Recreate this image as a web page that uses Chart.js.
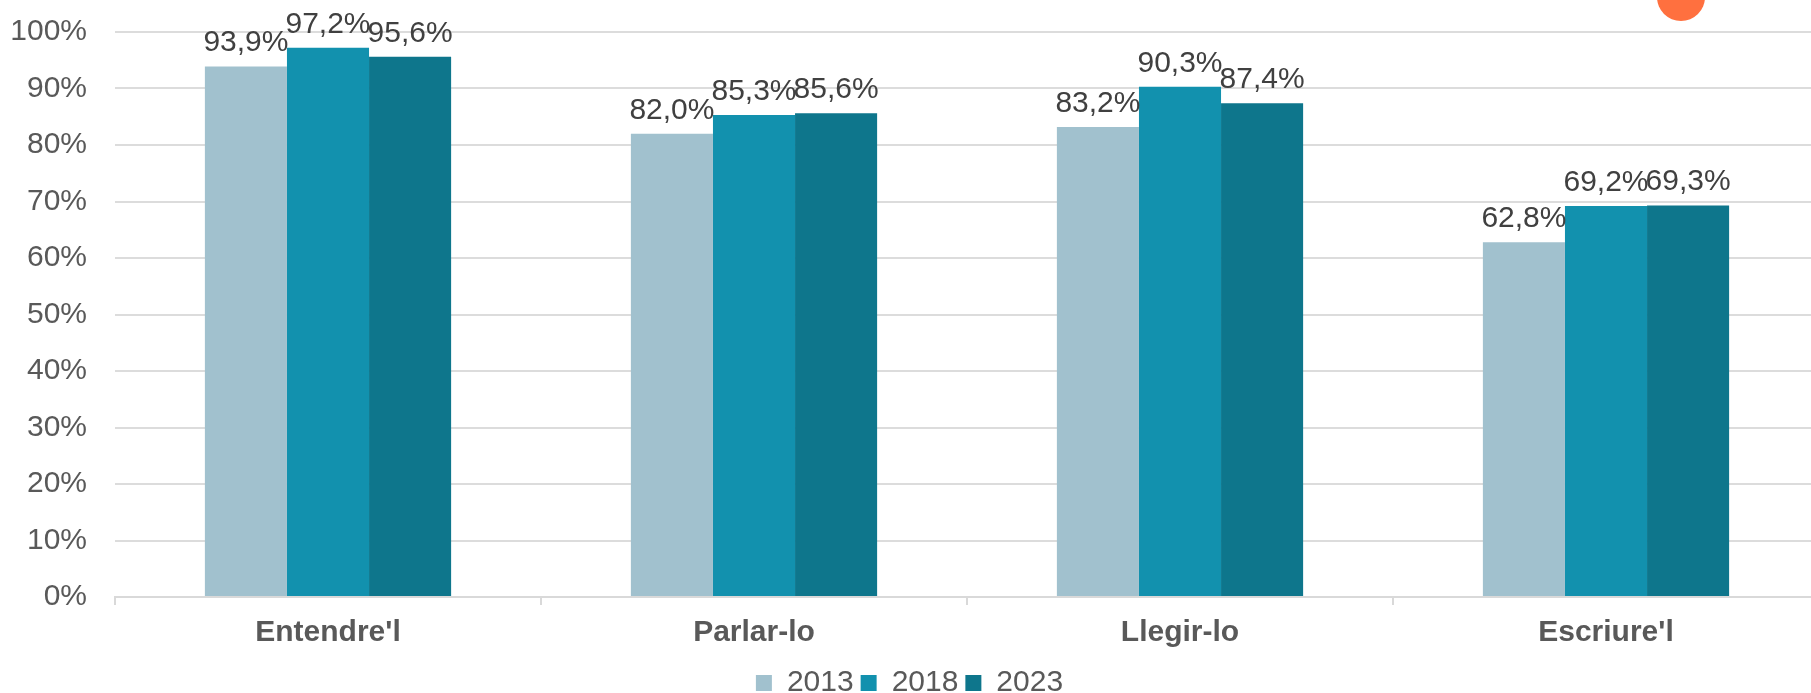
<!DOCTYPE html>
<html>
<head>
<meta charset="utf-8">
<script src="https://cdn.jsdelivr.net/npm/chart.js@4/dist/chart.umd.min.js"></script>
<style>
  html, body { margin: 0; padding: 0; background: #fff; overflow: hidden; }
  #wrap { position: relative; width: 1825px; height: 708px; }
</style>
</head>
<body>
<div id="wrap"><canvas id="chart"></canvas></div>
<script>
// Dades del gràfic
const categories = ["Entendre'l", 'Parlar-lo', 'Llegir-lo', "Escriure'l"];
const years = ['2013', '2018', '2023'];
const values2013 = [93.9, 82.0, 83.2, 62.8];
const values2018 = [97.2, 85.3, 90.3, 69.2];
const values2023 = [95.6, 85.6, 87.4, 69.3];
const yTicks = [0, 10, 20, 30, 40, 50, 60, 70, 80, 90, 100];

const colors = ['#a1c1ce', '#1291ae', '#0e768c'];
const fontFamily = '"Liberation Sans", Arial, sans-serif';

// etiquetes de valor damunt de cada barra
const valueLabels = {
    id: 'valueLabels',
    afterDatasetsDraw(chart) {
        const ctx = chart.ctx;
        ctx.save();
        ctx.font = '30px ' + fontFamily;
        ctx.fillStyle = '#404040';
        ctx.textAlign = 'center';
        ctx.textBaseline = 'alphabetic';
        chart.data.datasets.forEach((ds, i) => {
            chart.getDatasetMeta(i).data.forEach((bar, j) => {
                const txt = ds.data[j].toFixed(1).replace('.', ',') + '%';
                ctx.fillText(txt, bar.x, bar.y - 15);
            });
        });
        ctx.restore();
    }
};

// taca taronja retallada a dalt a la dreta
const orangeBlob = {
    id: 'orangeBlob',
    afterDraw(chart) {
        const ctx = chart.ctx;
        ctx.save();
        ctx.fillStyle = '#ff703f';
        ctx.beginPath();
        ctx.arc(1681, -3, 24, 0, Math.PI * 2);
        ctx.fill();
        ctx.restore();
    }
};

new Chart(document.getElementById('chart'), {
    type: 'bar',
    data: {
        labels: categories,
        datasets: [
            { label: years[0], data: values2013, backgroundColor: colors[0] },
            { label: years[1], data: values2018, backgroundColor: colors[1] },
            { label: years[2], data: values2023, backgroundColor: colors[2] }
        ]
    },
    options: {
        responsive: true,
        maintainAspectRatio: false,
        animation: false,
        datasets: { bar: { categoryPercentage: 0.578, barPercentage: 1.0 } },
        layout: { padding: { top: 32, right: 6, bottom: 0, left: 0 } },
        plugins: {
            tooltip: { enabled: false },
            legend: {
                position: 'bottom',
                labels: {
                    boxWidth: 16,
                    boxHeight: 16,
                    padding: 7,
                    color: '#595959',
                    font: { family: fontFamily, size: 30 }
                }
            }
        },
        scales: {
            x: {
                grid: { offset: true, drawOnChartArea: false, drawTicks: true, tickLength: 8, color: '#d9d9d9', lineWidth: 2 },
                border: { color: '#d9d9d9', width: 2 },
                ticks: { padding: 10, color: '#595959', font: { family: fontFamily, size: 30, weight: 'bold' } }
            },
            y: {
                min: 0,
                max: 100,
                afterBuildTicks(scale) { scale.ticks = yTicks.map(v => ({ value: v })); },
                afterFit(scale) { scale.width = 115; scale.paddingTop = 0; scale.paddingBottom = 0; },
                grid: { color: '#dcdcdc', lineWidth: 2, drawTicks: false },
                border: { display: false },
                ticks: {
                    padding: 28,
                    color: '#595959',
                    font: { family: fontFamily, size: 30 },
                    callback: v => v + '%'
                }
            }
        }
    },
    plugins: [valueLabels, orangeBlob]
});
</script>
</body>
</html>
